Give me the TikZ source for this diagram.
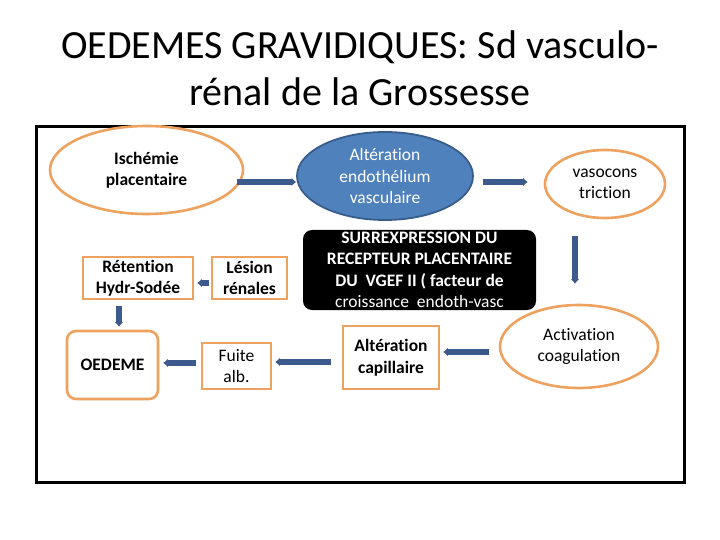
\documentclass[tikz,border=0pt]{standalone}
\usepackage{fontspec}
\setmainfont{Carlito}[Ligatures={NoCommon}]
\usetikzlibrary{shapes.geometric,arrows.meta,calc}
\definecolor{orangeb}{RGB}{238,162,96}
\definecolor{bluefill}{RGB}{79,129,189}
\definecolor{blueedge}{RGB}{56,93,138}
\definecolor{arrcol}{RGB}{60,90,140}
\tikzset{
  txt/.style={font=\fontsize{17.5}{21.5}\selectfont, align=center, text=black},
  oell/.style={ellipse, draw=orangeb, line width=2.6pt, fill=white, inner sep=0pt, txt},
  obox/.style={rectangle, draw=orangeb, line width=2.6pt, fill=white, inner sep=0pt, txt},
  arr/.style={draw=arrcol, line width=5.5pt, -{Latex[length=4.5pt,width=8.5pt]}},
}
\begin{document}
\begin{tikzpicture}[x=1pt,y=-1pt]
\useasboundingbox (0,0) rectangle (720,540);
% title
\node[font=\fontsize{40}{47}\selectfont, align=center] (title) at (360,68) {OEDEMES GRAVIDIQUES: Sd vasculo-\\rénal de la Grossesse};
% frame
\node[draw=black, line width=3pt, minimum width=648pt, minimum height=356pt, inner sep=0pt] (frame) at (360,304.5) {};
% nodes
\node[oell, minimum width=193pt, minimum height=88pt] (isch) at (146.5,170) {\bfseries Ischémie\\\bfseries placentaire};
\node[ellipse, draw=blueedge, line width=1.8pt, fill=bluefill, minimum width=176pt, minimum height=88pt, inner sep=0pt, txt, text=white] (alt) at (385,176) {Altération\\endothélium\\vasculaire};
\node[oell, minimum width=120pt, minimum height=68pt] (vaso) at (605,184) {vasocons\\triction};
\node[rectangle, rounded corners=9pt, fill=black, minimum width=233pt, minimum height=80pt, inner sep=0pt] (surr) at (419.5,270) {};
\node[txt, text=white] (surrtxt) at (surr.center) {\bfseries SURREXPRESSION DU\\\bfseries RECEPTEUR PLACENTAIRE\\\bfseries DU\ \ VGEF II ( facteur de\\croissance\ \ endoth-vasc};
\node[obox, minimum width=110pt, minimum height=42pt] (ret) at (138,278) {\bfseries Rétention\\\bfseries Hydr-Sodée};
\node[obox, minimum width=75pt, minimum height=42pt] (les) at (249.5,278) {\bfseries Lésion\\\bfseries rénales};
\node[obox, rounded corners=9pt, minimum width=91pt, minimum height=68pt] (oed) at (112.5,365) {\bfseries OEDEME};
\node[obox, minimum width=69pt, minimum height=46pt] (fui) at (236.5,366) {Fuite\\alb.};
\node[obox, minimum width=96pt, minimum height=63pt] (altc) at (391,357.5) {\bfseries Altération\\\bfseries capillaire};
\node[oell, minimum width=158pt, minimum height=83pt] (act) at (579,346.5) {Activation\\coagulation};
% connectors
\draw[arr] ($(isch.east)+(-7,12)$) -- ($(alt.west)+(0,6)$);
\draw[arr] ($(alt.east)+(9,6)$) -- ($(vaso.west)+(-16,-2)$);
\draw[arr] ($(vaso.south)+(-30,17)$) -- ($(act.north)+(-4,-20)$);
\draw[arr] ($(act.west)+(-10,5.5)$) -- ($(altc.east)+(3,-5.5)$);
\draw[arr] ($(altc.west)+(-11,4.5)$) -- ($(fui.east)+(3,-4)$);
\draw[arr] ($(fui.west)+(-5,-3)$) -- ($(oed.east)+(4,-2)$);
\draw[arr] ($(les.west)+(-2,5)$) -- ($(ret.east)+(3,5)$);
\draw[arr] ($(ret.south)+(-19,6)$) -- ($(oed.north)+(6.5,-3)$);
\end{tikzpicture}
\end{document}
